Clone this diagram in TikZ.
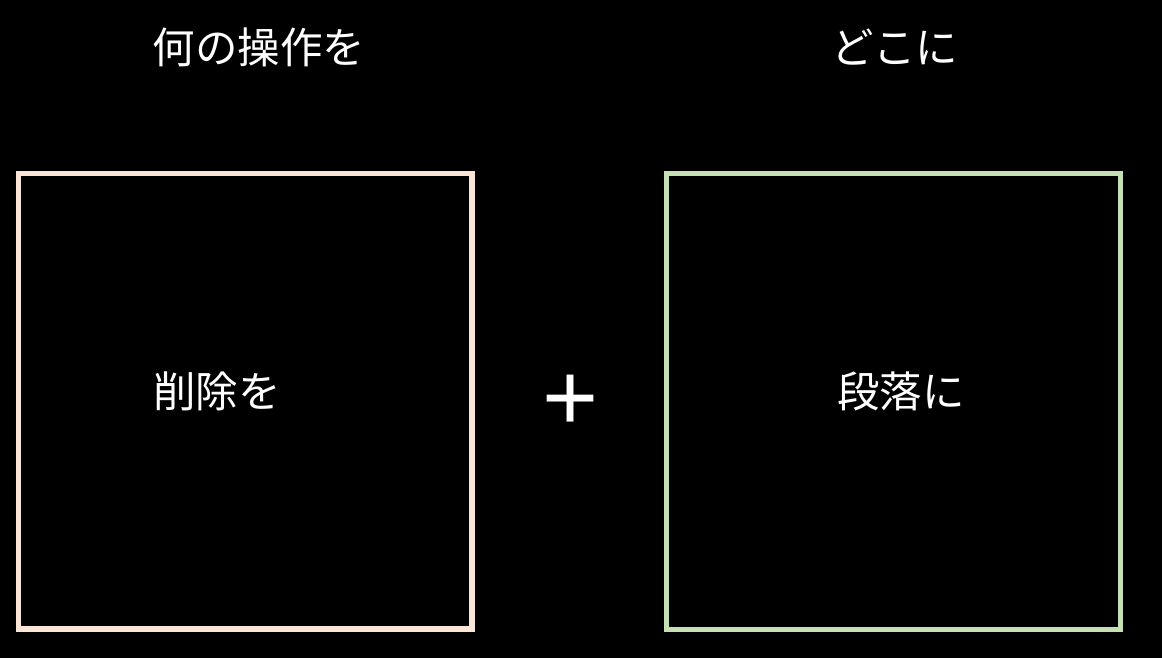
\documentclass[tikz,border=0pt]{standalone}
\usepackage{fontspec}
\newfontfamily\jp{Noto Sans CJK JP}
\newfontfamily\lib{Liberation Sans}
\definecolor{peach}{HTML}{FBE5D6}
\definecolor{lgreen}{HTML}{C5E0B4}
\begin{document}
\begin{tikzpicture}[x=1pt,y=-1pt,
  lbl/.style={text=white,font=\jp\fontsize{42.5}{50}\selectfont,inner sep=0pt,anchor=center},
  frame/.style={line width=5.5pt}]
\fill[black] (0,0) rectangle (1162,658);
\useasboundingbox (0,0) rectangle (1162,658);
\draw[frame,draw=peach] (18.5,173.5) rectangle (472,629);
\draw[frame,draw=lgreen] (666.5,173.5) rectangle (1120.5,629.5);
\node[lbl] (t1) at (259,47) {何の操作を};
\node[lbl] (t2) at (895,47) {どこに};
\node[lbl] (a) at (217,391) {削除を};
\node[lbl] (b) at (901,391) {段落に};
\node[text=white,font=\lib\fontsize{96}{100}\selectfont,inner sep=0pt] (plus) at (571,403) {+};
\end{tikzpicture}
\end{document}
